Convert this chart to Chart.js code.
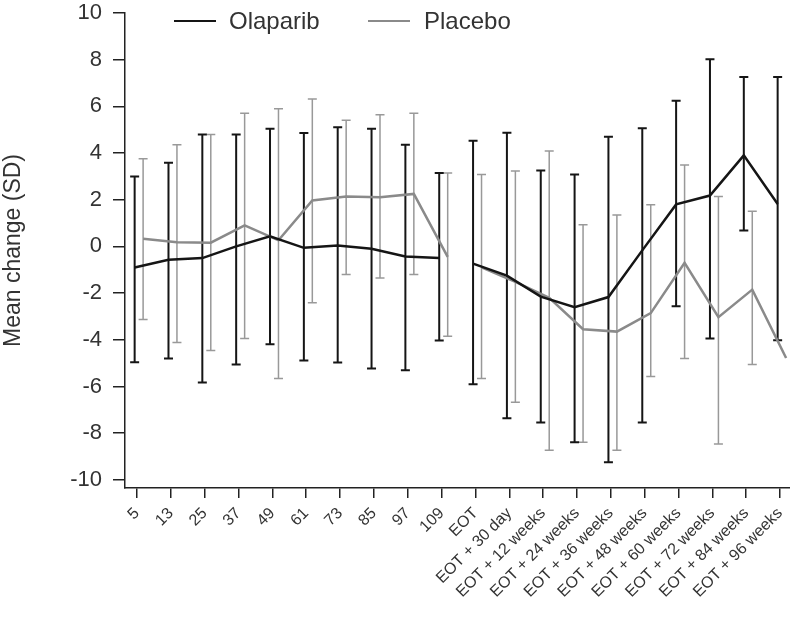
<!DOCTYPE html>
<html>
<head>
<meta charset="utf-8">
<script src="https://cdn.jsdelivr.net/npm/chart.js@4.4.0/dist/chart.umd.min.js"></script>
<style>
  html, body { margin: 0; padding: 0; background: #fff; }
  #wrap { width: 790px; height: 620px; }
</style>
</head>
<body>
<div id="wrap"><canvas id="qolChart" width="790" height="620"></canvas></div>
<script>
const xLabels = ['5', '13', '25', '37', '49', '61', '73', '85', '97', '109', 'EOT', 'EOT + 30 day',
  'EOT + 12 weeks', 'EOT + 24 weeks', 'EOT + 36 weeks', 'EOT + 48 weeks', 'EOT + 60 weeks',
  'EOT + 72 weeks', 'EOT + 84 weeks', 'EOT + 96 weeks'];
const yTicks = [-10, -8, -6, -4, -2, 0, 2, 4, 6, 8, 10];

const olaparibMean  = [-0.9, -0.57, -0.5, 0.0, 0.43, -0.06, 0.04, -0.1, -0.43, -0.5,
  -0.74, -1.25, -2.15, -2.6, -2.17, -0.17, 1.8, 2.18, 3.9, 1.82];
const olaparibUpper = [3.0, 3.58, 4.79, 4.79, 5.04, 4.86, 5.11, 5.04, 4.36, 3.15,
  4.53, 4.87, 3.25, 3.08, 4.7, 5.06, 6.24, 8.02, 7.26, 7.26];
const olaparibLower = [-4.96, -4.8, -5.83, -5.06, -4.19, -4.89, -4.97, -5.23, -5.31, -4.03,
  -5.91, -7.36, -7.54, -8.39, -9.25, -7.54, -2.56, -3.95, 0.68, -4.02];

const placeboMean  = [0.33, 0.18, 0.16, 0.9, 0.26, 1.97, 2.14, 2.11, 2.25, -0.45,
  -0.9, -1.52, -2.2, -3.55, -3.65, -2.86, -0.7, -3.03, -1.85, -4.78];
const placeboUpper = [3.76, 4.36, 4.79, 5.71, 5.9, 6.32, 5.41, 5.64, 5.71, 3.15,
  3.08, 3.23, 4.09, 0.93, 1.35, 1.79, 3.49, 2.14, 1.51, null];
const placeboLower = [-3.13, -4.12, -4.46, -3.95, -5.66, -2.41, -1.2, -1.35, -1.2, -3.85,
  -5.66, -6.68, -8.73, -8.39, -8.73, -5.57, -4.8, -8.47, -5.06, null];

const breakAfter = 9; // line is broken between "109" and "EOT"
const FONT = '"Liberation Sans", Arial, sans-serif';

// points with a small horizontal dodge per arm, null inserted to break the line
function toPoints(means, dodge) {
  const pts = [];
  means.forEach((m, i) => {
    pts.push({ x: i + dodge, y: m });
    if (i === breakAfter) pts.push({ x: i + 0.5, y: null });
  });
  return pts;
}

const series = [
  { label: 'Olaparib', mean: olaparibMean, upper: olaparibUpper, lower: olaparibLower,
    dodge: -0.07, color: '#151515', barColor: '#151515', barWidth: 2 },
  { label: 'Placebo', mean: placeboMean, upper: placeboUpper, lower: placeboLower,
    dodge: 0.18, color: '#8a8a8a', barColor: '#999999', barWidth: 1.5 }
];

const errorBars = {
  id: 'errorBars',
  beforeDatasetsDraw(chart) {
    const ctx = chart.ctx;
    const xs = chart.scales.x, ys = chart.scales.y;
    ctx.save();
    series.slice().reverse().forEach(s => {
      ctx.strokeStyle = s.barColor;
      ctx.lineWidth = s.barWidth;
      s.mean.forEach((m, i) => {
        if (s.upper[i] == null || s.lower[i] == null) return;
        const x = xs.getPixelForValue(i + s.dodge);
        const yt = ys.getPixelForValue(s.upper[i]);
        const yb = ys.getPixelForValue(s.lower[i]);
        ctx.beginPath();
        ctx.moveTo(x, yt); ctx.lineTo(x, yb);
        ctx.moveTo(x - 4.5, yt); ctx.lineTo(x + 4.5, yt);
        ctx.moveTo(x - 4.5, yb); ctx.lineTo(x + 4.5, yb);
        ctx.stroke();
      });
    });
    ctx.restore();
  }
};

const legendInPlot = {
  id: 'legendInPlot',
  afterDraw(chart) {
    const ctx = chart.ctx;
    ctx.save();
    ctx.font = '24px ' + FONT;
    ctx.textBaseline = 'middle';
    ctx.fillStyle = '#333';
    const items = [
      { s: series[0], x0: 174, x1: 216, tx: 229 },
      { s: series[1], x0: 368, x1: 410, tx: 424 }
    ];
    items.forEach(it => {
      ctx.strokeStyle = it.s.color;
      ctx.lineWidth = 2;
      ctx.beginPath();
      ctx.moveTo(it.x0, 21); ctx.lineTo(it.x1, 21);
      ctx.stroke();
      ctx.fillText(it.s.label, it.tx, 22);
    });
    ctx.restore();
  }
};

new Chart(document.getElementById('qolChart'), {
  type: 'line',
  data: {
    datasets: series.map(s => ({
      label: s.label,
      data: toPoints(s.mean, s.dodge),
      borderColor: s.color,
      borderWidth: 2.5,
      pointRadius: 0,
      tension: 0,
      spanGaps: false,
      fill: false
    }))
  },
  options: {
    responsive: false,
    animation: false,
    layout: { padding: { top: 13, right: 0, bottom: 0, left: 0 } },
    plugins: { legend: { display: false }, tooltip: { enabled: false } },
    scales: {
      x: {
        type: 'linear',
        min: -0.355,
        max: 19.295,
        afterBuildTicks: scale => { scale.ticks = xLabels.map((l, i) => ({ value: i })); },
        afterFit: scale => {
          scale.height = 132;
          scale.paddingLeft = 0;
          scale.paddingRight = 0;
        },
        grid: { drawOnChartArea: false, drawTicks: true, tickLength: 10, color: '#222', lineWidth: 1.5 },
        border: { display: true, color: '#222', width: 1.5 },
        ticks: {
          autoSkip: false,
          maxRotation: 45,
          minRotation: 45,
          padding: 6,
          color: '#333',
          font: { family: FONT, size: 16 },
          callback: v => xLabels[v]
        }
      },
      y: {
        min: -10.35,
        max: 10,
        afterBuildTicks: scale => { scale.ticks = yTicks.map(v => ({ value: v })); },
        afterFit: scale => {
          scale.width = 125;
          scale.paddingTop = 0;
          scale.paddingBottom = 0;
        },
        grid: { drawOnChartArea: false, drawTicks: true, tickLength: 12, color: '#222', lineWidth: 1.5 },
        border: { display: true, color: '#222', width: 1.5 },
        ticks: {
          padding: 11,
          color: '#333',
          font: { family: FONT, size: 22 },
          callback: v => String(v)
        },
        title: {
          display: true,
          text: 'Mean change (SD)',
          color: '#333',
          font: { family: FONT, size: 23 },
          padding: { top: 0, bottom: 0 }
        }
      }
    }
  },
  plugins: [errorBars, legendInPlot]
});
</script>
</body>
</html>
